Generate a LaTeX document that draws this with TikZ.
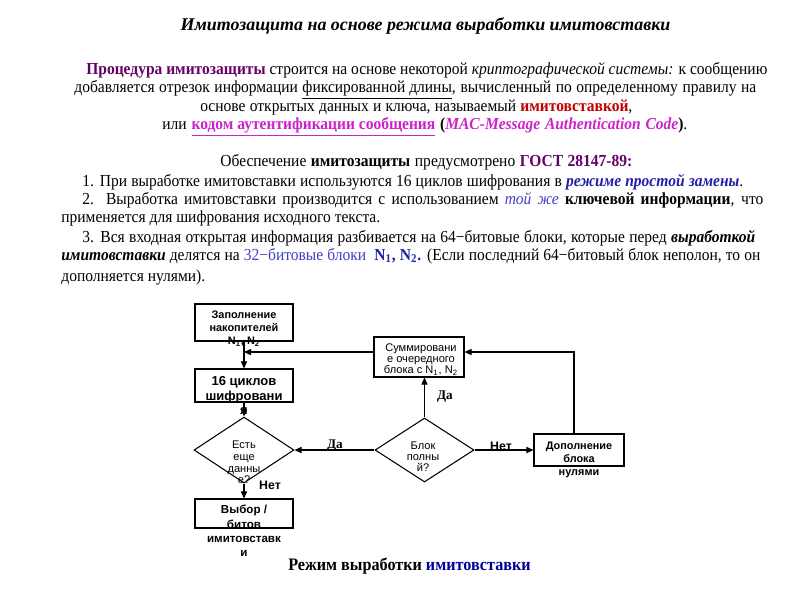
\documentclass[tikz,border=0pt]{standalone}
\usepackage{fontspec}
\setmainfont{Liberation Sans}
\newfontfamily\bodyfont[FakeStretch=0.92]{Liberation Serif}
\newfontfamily\headfont{Liberation Serif}
\usetikzlibrary{arrows.meta,shapes.geometric}
\definecolor{procpurple}{HTML}{660066}
\definecolor{macred}{HTML}{C00000}
\definecolor{macpink}{HTML}{CC22CC}
\definecolor{modeblue}{HTML}{1F1FA8}
\definecolor{softblue}{HTML}{3F3FC0}
\definecolor{capnavy}{HTML}{000099}
\newlength\pxlen \setlength\pxlen{0.02cm}
\tikzset{flow/.style={-{Triangle[length=4pt,width=3.5pt]},line width=0.6pt},
 block/.style={draw,line width=0.6pt,minimum width=1.96cm,inner sep=0},
 decision/.style={draw,diamond,line width=0.6pt,minimum width=2cm,minimum height=1.32cm,inner sep=0},
 blocktext/.style={anchor=north,align=center,inner sep=0},
 textline/.style={anchor=base west,inner sep=0,font=\bodyfont\fontsize{9.6}{11}\selectfont},
 answer/.style={inner sep=0,font=\headfont\bfseries\fontsize{7.5}{9}\selectfont},
 noanswer/.style={inner sep=0,font=\bfseries\fontsize{7}{9}\selectfont}}

\begin{document}
\begin{tikzpicture}[x=0.02cm,y=-0.02cm]
\useasboundingbox (0,0) rectangle (800,600);
% heading and explanation
\node[anchor=base,inner sep=0,font=\headfont\bfseries\itshape\fontsize{10.2}{12}\selectfont] (title) at (425.5,30) {Имитозащита на основе режима выработки имитовставки};
\node[textline] (intro1) at (86,74) {\makebox[681\pxlen][s]{\textcolor{procpurple}{\bfseries Процедура имитозащиты} строится на основе некоторой \textit{криптографической системы:} к сообщению}};
\node[textline] (intro2) at (74,92) {\makebox[682\pxlen][s]{добавляется отрезок информации \underline{фиксированной длины}, вычисленный по определенному правилу на}};
\node[textline] (intro3) at (200,111) {\makebox[432\pxlen][s]{основе открытых данных и ключа, называемый \textcolor{macred}{\bfseries имитовставкой},}};
\node[textline] (intro4) at (162,129) {\makebox[525\pxlen][s]{или \textcolor{macpink}{\bfseries\underline{кодом аутентификации сообщения}} {\bfseries(}\textcolor{macpink}{\bfseries\itshape MAC-Message Authentication Code}{\bfseries)}.}};
\node[textline] (gost) at (220,166) {\makebox[412\pxlen][s]{Обеспечение \textbf{имитозащиты} предусмотрено \textcolor{procpurple}{\bfseries ГОСТ 28147-89:}}};
\node[textline] (item1) at (82,186) {\makebox[661\pxlen][s]{1. При выработке имитовставки используются 16 циклов шифрования в \textcolor{modeblue}{\bfseries\itshape режиме простой замены}.}};
\node[textline] (item2) at (82,204) {\makebox[681\pxlen][s]{2. Выработка имитовставки производится с использованием \textcolor{softblue}{\itshape той же} \textbf{ключевой информации}, что}};
\node[textline] (item2b) at (61,222) {применяется для шифрования исходного текста.};
\node[textline] (item3) at (82,242) {\makebox[673\pxlen][s]{3. Вся входная открытая информация разбивается на 64−битовые блоки, которые перед \textbf{\itshape выработкой}}};
\node[textline] (item3b) at (61,260) {\makebox[699\pxlen][s]{\textbf{\itshape имитовставки} делятся на \textcolor{softblue}{32−битовые блоки}\ \ \textcolor{modeblue}{\bfseries N\textsubscript{1}, N\textsubscript{2}.} (Если последний 64−битовый блок неполон, то он}};
\node[textline] (item3c) at (61,281) {дополняется нулями).};
% flow chart
\node[block,minimum height=0.74cm] (fill) at (244,322.5) {};
\node[block,minimum height=0.66cm] (cycles) at (244,385.5) {};
\node[decision] (more) at (244,450) {};
\node[block,minimum height=0.58cm] (pick) at (244,513.5) {};
\node[block,minimum width=1.8cm,minimum height=0.8cm] (sum) at (419,357) {};
\node[decision,minimum width=1.98cm,minimum height=1.28cm] (full) at (424.5,450) {};
\node[block,minimum width=1.8cm,minimum height=0.64cm] (pad) at (579,450) {};
\node[blocktext,font=\bfseries\fontsize{6.2}{7.4}\selectfont] (filltxt) at (244,311) {Заполнение\\накопителей\\N\textsubscript{1}, N\textsubscript{2}};
\node[blocktext,font=\bfseries\fontsize{7.4}{8}\selectfont] (cyctxt) at (244,376.5) {16 циклов\\шифровани\\я};
\node[blocktext,font=\bfseries\fontsize{6.6}{8.1}\selectfont] (picktxt) at (244,505) {Выбор /\\битов\\имитовставк\\и};
\node[blocktext,font=\fontsize{6.3}{6.5}\selectfont] (sumtxt) at (421,343) {Суммировани\\е очередного\\блока с N\textsubscript{1}, N\textsubscript{2}};
\node[blocktext,font=\fontsize{6.3}{6.6}\selectfont] (moretxt) at (244,441) {Есть\\еще\\данны\\е?};
\node[blocktext,font=\fontsize{6.3}{6.1}\selectfont] (fulltxt) at (423,442) {Блок\\полны\\й?};
\node[blocktext,font=\bfseries\fontsize{6.2}{7.3}\selectfont] (padtxt) at (579,442) {Дополнение\\блока\\нулями};
\coordinate (join) at (244,352);
\draw[flow] (fill.south) -- (cycles.north);
\draw[flow] (sum.west |- join) -- (join);
\draw[flow] (cycles.south) -- (more.north);
\draw[flow] (more.south) -- (pick.north);
\draw[flow] (full.west) -- (more.east);
\draw[flow] (full.north) -- (full.north |- sum.south);
\draw[flow] (full.east) -- (pad.west);
\draw[flow] ([xshift=-0.1cm]pad.north) |- (sum.east |- join);
\node[answer] (yesleft) at (335,446) {Да};
\node[answer] (yesup) at (445,397) {Да};
\node[noanswer] (noright) at (501,446) {Нет};
\node[noanswer] (nodown) at (270,485) {Нет};
\node[anchor=base,inner sep=0,font=\bodyfont\bfseries\fontsize{10}{12}\selectfont] (caption) at (409.5,570) {Режим выработки \textcolor{capnavy}{имитовставки}};
\end{tikzpicture}
\end{document}
